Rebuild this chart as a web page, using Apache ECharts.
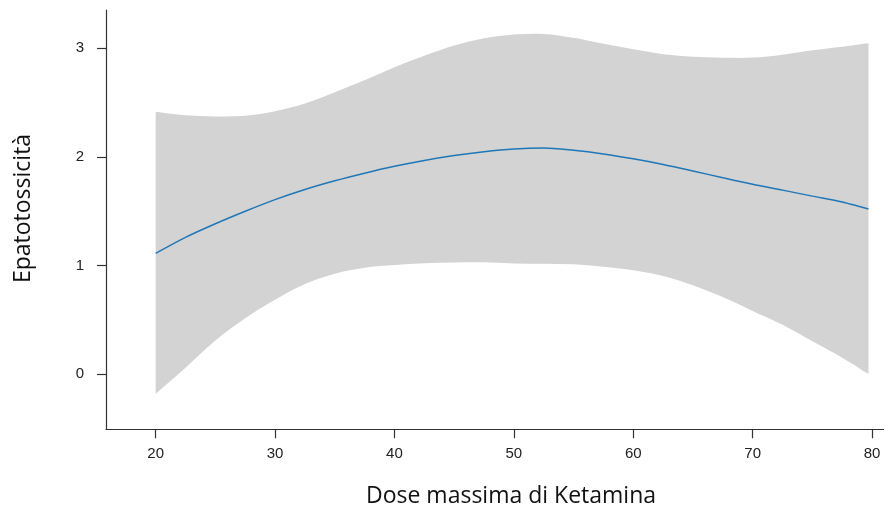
<!DOCTYPE html>
<html>
<head>
<meta charset="utf-8">
<script src="https://cdn.jsdelivr.net/npm/echarts@6/dist/echarts.min.js"></script>
<style>html,body{margin:0;padding:0;background:#fff}#c{width:884px;height:508px}</style>
</head>
<body>
<div id="c"></div>
<script>
const doseX = [20, 22.5, 25, 27.5, 30, 32.5, 35, 37.5, 40, 42.5, 45, 47.5, 50, 52.5, 55, 57.5, 60, 62.5, 65, 67.5, 70, 72.5, 75, 77.5, 79.7];
const fitLine = [1.113, 1.26, 1.385, 1.50, 1.607, 1.70, 1.78, 1.85, 1.913, 1.967, 2.012, 2.048, 2.073, 2.082, 2.06, 2.026, 1.982, 1.93, 1.87, 1.808, 1.748, 1.694, 1.639, 1.585, 1.521];
const upperBand = [2.416, 2.383, 2.372, 2.378, 2.42, 2.49, 2.595, 2.705, 2.825, 2.93, 3.025, 3.09, 3.125, 3.131, 3.095, 3.04, 2.99, 2.945, 2.92, 2.912, 2.913, 2.94, 2.98, 3.013, 3.045];
const lowerBand = [-0.181, 0.06, 0.31, 0.515, 0.685, 0.83, 0.925, 0.98, 1.005, 1.022, 1.028, 1.03, 1.02, 1.017, 1.012, 0.99, 0.958, 0.905, 0.82, 0.71, 0.583, 0.455, 0.304, 0.153, 0.003];
const xTicks = [20, 30, 40, 50, 60, 70, 80];
const yTicks = [0, 1, 2, 3];
const xTitle = 'Dose massima di Ketamina';
const yTitle = 'Epatotossicità';

const chart = echarts.init(document.getElementById('c'), null, {renderer: 'canvas'});
const bandData = doseX.map((x, i) => [x, lowerBand[i], upperBand[i]]);
const lineData = doseX.map((x, i) => [x, fitLine[i]]);
const axisCol = '#333333';

function splinePath(pts, start) {
  let d = start ? 'M' + pts[0][0] + ' ' + pts[0][1] : 'L' + pts[0][0] + ' ' + pts[0][1];
  const n = pts.length;
  for (let i = 0; i < n - 1; i++) {
    const p0 = pts[Math.max(i - 1, 0)], p1 = pts[i], p2 = pts[i + 1], p3 = pts[Math.min(i + 2, n - 1)];
    const c1x = p1[0] + (p2[0] - p0[0]) / 6, c1y = p1[1] + (p2[1] - p0[1]) / 6;
    const c2x = p2[0] - (p3[0] - p1[0]) / 6, c2y = p2[1] - (p3[1] - p1[1]) / 6;
    d += ' C' + c1x + ' ' + c1y + ' ' + c2x + ' ' + c2y + ' ' + p2[0] + ' ' + p2[1];
  }
  return d;
}

chart.setOption({
  animation: false,
  grid: {left: 106, right: 0, top: 10, bottom: 78.7, containLabel: false},
  xAxis: {
    type: 'value', min: 15.84, max: 81.0, z: 10,
    splitLine: {show: false},
    axisLine: {show: true, onZero: false, lineStyle: {color: axisCol, width: 1.2}},
    axisTick: {show: true, customValues: xTicks, length: 9, lineStyle: {color: axisCol, width: 1.2}},
    axisLabel: {customValues: xTicks, margin: 17, color: '#222', fontFamily: 'Liberation Sans', fontSize: 15}
  },
  yAxis: {
    type: 'value', min: -0.506, max: 3.351, z: 10,
    splitLine: {show: false},
    axisLine: {show: true, onZero: false, lineStyle: {color: axisCol, width: 1.2}},
    axisTick: {show: true, customValues: yTicks, length: 9, lineStyle: {color: axisCol, width: 1.2}},
    axisLabel: {customValues: yTicks, margin: 22, color: '#222', fontFamily: 'Liberation Sans', fontSize: 15}
  },
  series: [
    {
      type: 'custom', name: 'band', data: bandData, silent: true, z: 2,
      encode: {x: 0, y: [1, 2]},
      renderItem: function (params, api) {
        if (params.dataIndex !== 0) return null;
        const up = bandData.map(d => api.coord([d[0], d[2]]));
        const lo = bandData.map(d => api.coord([d[0], d[1]])).reverse();
        const pathData = splinePath(up, true) + ' ' + splinePath(lo, false) + ' Z';
        return {type: 'path', shape: {pathData: pathData}, style: {fill: '#d3d3d3', stroke: null}};
      }
    },
    {type: 'line', name: 'fit', data: lineData, smooth: 0.3, symbol: 'none', lineStyle: {color: '#1f77b8', width: 1.5}, z: 5}
  ],
  graphic: [
    {type: 'text', x: 511, y: 496, style: {text: xTitle, align: 'center', verticalAlign: 'middle', fontFamily: 'Open Sans', fontSize: 23, fill: '#111'}},
    {type: 'text', rotation: Math.PI / 2, x: 23, y: 208.5, style: {text: yTitle, align: 'center', verticalAlign: 'middle', fontFamily: 'Open Sans', fontSize: 23, fill: '#111'}}
  ]
});
</script>
</body>
</html>
